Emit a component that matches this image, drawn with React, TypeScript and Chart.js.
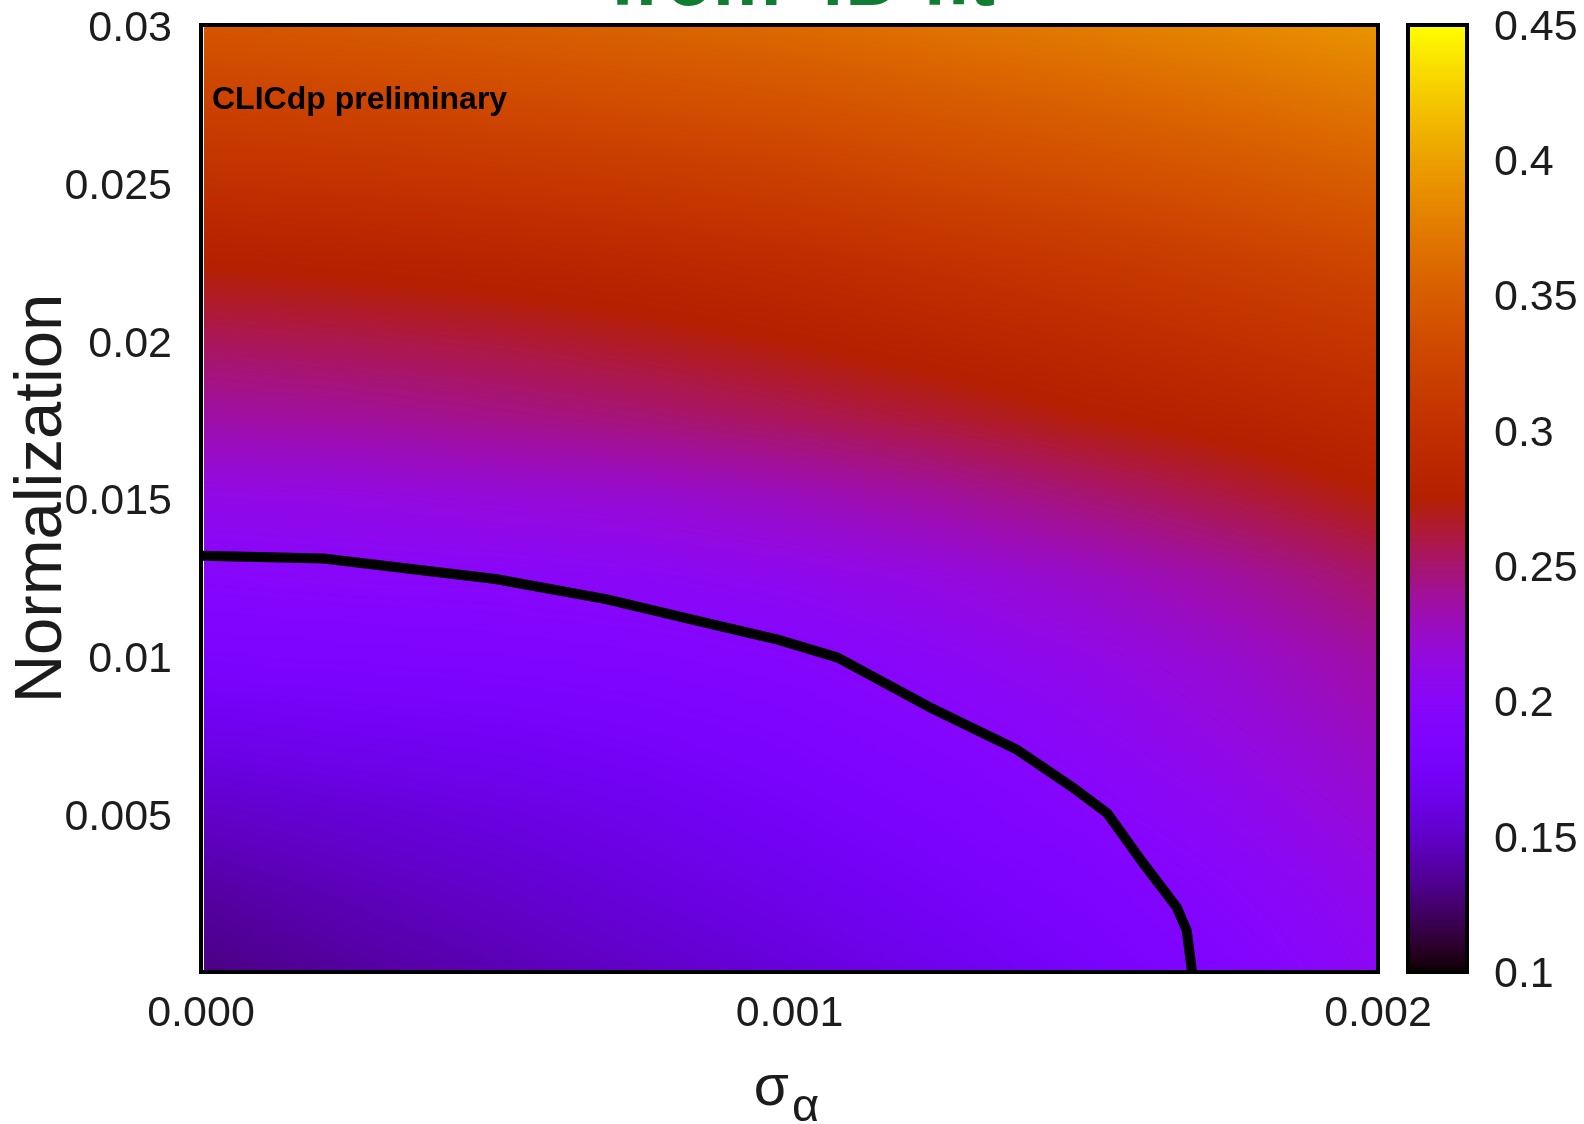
import React, { useEffect, useRef } from "react";
import { Chart, registerables } from "chart.js";

Chart.register(...registerables);

// Grid of the fitted surface: columns follow sigmaNodes, rows follow normNodes (bottom to top)
const sigmaNodes = [0, 0.00025, 0.0005, 0.00075, 0.001, 0.00125, 0.0015, 0.00175, 0.002];
const normNodes = [0, 0.0025, 0.005, 0.0075, 0.01, 0.0125, 0.015, 0.0175, 0.02, 0.0225, 0.025, 0.0275, 0.03];

const zRow000 = [0.130, 0.137, 0.143, 0.150, 0.157, 0.166, 0.176, 0.190, 0.205];
const zRow025 = [0.138, 0.145, 0.151, 0.158, 0.165, 0.174, 0.184, 0.197, 0.211];
const zRow050 = [0.150, 0.155, 0.160, 0.166, 0.174, 0.183, 0.194, 0.206, 0.220];
const zRow075 = [0.165, 0.169, 0.172, 0.177, 0.184, 0.193, 0.203, 0.215, 0.228];
const zRow100 = [0.183, 0.185, 0.187, 0.190, 0.195, 0.203, 0.212, 0.223, 0.237];
const zRow125 = [0.197, 0.199, 0.200, 0.203, 0.208, 0.215, 0.225, 0.237, 0.252];
const zRow150 = [0.212, 0.214, 0.218, 0.221, 0.228, 0.237, 0.248, 0.260, 0.273];
const zRow175 = [0.235, 0.238, 0.243, 0.248, 0.255, 0.263, 0.273, 0.281, 0.290];
const zRow200 = [0.255, 0.258, 0.262, 0.268, 0.275, 0.283, 0.291, 0.300, 0.309];
const zRow225 = [0.276, 0.279, 0.283, 0.288, 0.294, 0.302, 0.310, 0.319, 0.328];
const zRow250 = [0.300, 0.303, 0.307, 0.312, 0.318, 0.326, 0.333, 0.341, 0.350];
const zRow275 = [0.322, 0.325, 0.330, 0.335, 0.340, 0.347, 0.354, 0.362, 0.371];
const zRow300 = [0.343, 0.347, 0.351, 0.356, 0.361, 0.368, 0.375, 0.383, 0.392];

const zRows = [
  zRow000, zRow025, zRow050, zRow075, zRow100, zRow125, zRow150,
  zRow175, zRow200, zRow225, zRow250, zRow275, zRow300,
];

// Contour line
const contourSigma = [0, 0.000208, 0.0005, 0.000688, 0.00086, 0.00098, 0.001082, 0.001238, 0.001387, 0.001478, 0.00154, 0.001598, 0.001658, 0.001675, 0.001684];
const contourNorm = [0.01319, 0.0131, 0.01245, 0.01181, 0.01105, 0.01053, 0.00996, 0.00839, 0.00704, 0.00589, 0.00503, 0.00352, 0.00205, 0.00131, 0];

// Axis ticks
const xTicks = [0, 0.001, 0.002];
const xTickLabels = ["0.000", "0.001", "0.002"];
const yTicks = [0.005, 0.01, 0.015, 0.02, 0.025, 0.03];
const yTickLabels = ["0.005", "0.01", "0.015", "0.02", "0.025", "0.03"];
const cbTicks = [0.1, 0.15, 0.2, 0.25, 0.3, 0.35, 0.4, 0.45];
const cbTickLabels = ["0.1", "0.15", "0.2", "0.25", "0.3", "0.35", "0.4", "0.45"];

const zMin = 0.1;
const zMax = 0.45;

const FONT = "'Liberation Sans', Arial, Helvetica, sans-serif";
const TEXT_COLOR = "#1c1c1c";

const clamp = (v: number, lo: number, hi: number) => Math.min(hi, Math.max(lo, v));

// gnuplot-style rgbformulae 7,5,15 (black - blue - red - yellow)
function palette(z: number): [number, number, number] {
  const t = clamp((z - zMin) / (zMax - zMin), 0, 1);
  const r = Math.sqrt(t);
  const g = t * t * t;
  const b = clamp(Math.sin(2 * Math.PI * t), 0, 1);
  return [Math.round(r * 255), Math.round(g * 255), Math.round(b * 255)];
}

function locate(nodes: number[], v: number): [number, number] {
  let i = 0;
  while (i < nodes.length - 2 && v > nodes[i + 1]) i++;
  const f = clamp((v - nodes[i]) / (nodes[i + 1] - nodes[i]), 0, 1);
  return [i, f];
}

function surface(sx: number, ny: number): number {
  const [i, fx] = locate(sigmaNodes, sx);
  const [j, fy] = locate(normNodes, ny);
  const z00 = zRows[j][i];
  const z10 = zRows[j][i + 1];
  const z01 = zRows[j + 1][i];
  const z11 = zRows[j + 1][i + 1];
  const a = z00 + (z10 - z00) * fx;
  const b = z01 + (z11 - z01) * fx;
  return a + (b - a) * fy;
}

const heatmapPlugin = {
  id: "heatmap",
  beforeDatasetsDraw(chart: any) {
    const { ctx, chartArea, scales } = chart;
    const xs = scales.x;
    const ys = scales.y;
    const x0 = Math.round(chartArea.left) + 3;
    const y0 = Math.round(chartArea.top);
    const w = Math.round(chartArea.right) - x0;
    const h = Math.round(chartArea.bottom) - y0;
    const img = ctx.createImageData(w, h);
    const d = img.data;
    const colVals: number[] = [];
    for (let px = 0; px < w; px++) colVals.push(xs.getValueForPixel(x0 + px + 0.5));
    for (let py = 0; py < h; py++) {
      const nv = ys.getValueForPixel(y0 + py + 0.5);
      for (let px = 0; px < w; px++) {
        const [r, g, b] = palette(surface(colVals[px], nv));
        const k = (py * w + px) * 4;
        d[k] = r;
        d[k + 1] = g;
        d[k + 2] = b;
        d[k + 3] = 255;
      }
    }
    ctx.putImageData(img, x0, y0);
  },
};

const decorPlugin = {
  id: "decor",
  afterDraw(chart: any) {
    const { ctx, chartArea, scales } = chart;
    const { left, top, right, bottom } = chartArea;
    ctx.save();

    // frame around the map
    ctx.strokeStyle = "#000";
    ctx.lineWidth = 4;
    ctx.strokeRect(left, top, right - left, bottom - top);

    // colour bar
    const cb = scales.cb;
    const cbLeft = right + 30;
    const cbWidth = 59;
    const cbTop = cb.getPixelForValue(zMax);
    const cbBottom = cb.getPixelForValue(zMin);
    for (let py = Math.floor(cbTop); py < Math.ceil(cbBottom); py++) {
      const [r, g, b] = palette(cb.getValueForPixel(py + 0.5));
      ctx.fillStyle = `rgb(${r},${g},${b})`;
      ctx.fillRect(cbLeft, py, cbWidth, 1);
    }
    ctx.lineWidth = 4;
    ctx.strokeStyle = "#000";
    ctx.strokeRect(cbLeft, cbTop, cbWidth, cbBottom - cbTop);

    // experiment tag
    ctx.fillStyle = "#000";
    ctx.font = `bold 32px ${FONT}`;
    ctx.textAlign = "left";
    ctx.textBaseline = "alphabetic";
    ctx.fillText("CLICdp preliminary", left + 11, top + 84);

    // slide heading, mostly cut off at the top edge
    ctx.fillStyle = "#107d33";
    ctx.font = `bold 77px ${FONT}`;
    ctx.textAlign = "center";
    ctx.fillText("from 4D fit", (left + right) / 2 + 13, 5);

    // x-axis title: sigma with subscript alpha
    ctx.fillStyle = TEXT_COLOR;
    const sigFont = `57px ${FONT}`;
    const subFont = `47px ${FONT}`;
    ctx.font = sigFont;
    const wSig = ctx.measureText("σ").width;
    ctx.font = subFont;
    const wSub = ctx.measureText("α").width;
    const total = wSig + wSub + 3;
    const start = (left + right) / 2 - total / 2 - 3;
    ctx.textAlign = "left";
    ctx.font = sigFont;
    ctx.fillText("σ", start, bottom + 133);
    ctx.font = subFont;
    ctx.fillText("α", start + wSig + 3, bottom + 149);

    ctx.restore();
  },
};

const tickFont = { family: FONT, size: 43 };

export default function App() {
  const canvasRef = useRef<HTMLCanvasElement | null>(null);

  useEffect(() => {
    document.body.style.margin = "0";
    const canvas = canvasRef.current;
    if (!canvas) return;

    const chart = new Chart(canvas, {
      type: "scatter",
      data: {
        datasets: [
          {
            data: contourSigma.map((s, i) => ({ x: s, y: contourNorm[i] })),
            showLine: true,
            borderColor: "#000",
            borderWidth: 10,
            borderJoinStyle: "round",
            pointRadius: 0,
            fill: false,
            tension: 0,
          } as any,
        ],
      },
      options: {
        animation: false,
        responsive: true,
        maintainAspectRatio: false,
        events: [],
        layout: { padding: { top: 25, left: 0, right: 0, bottom: 0 } },
        plugins: {
          legend: { display: false },
          tooltip: { enabled: false },
        },
        scales: {
          x: {
            type: "linear",
            position: "bottom",
            min: 0,
            max: 0.002,
            grid: { display: false, drawTicks: false, tickLength: 0 },
            border: { display: false },
            ticks: {
              autoSkip: false,
              maxRotation: 0,
              padding: 16,
              color: TEXT_COLOR,
              font: tickFont,
              callback: (_v: any, i: number) => xTickLabels[i],
            },
            afterBuildTicks: (s: any) => {
              s.ticks = xTicks.map((v) => ({ value: v }));
            },
            afterFit: (s: any) => {
              s.height = 152;
              s.paddingLeft = 0;
              s.paddingRight = 0;
            },
          },
          y: {
            type: "linear",
            position: "left",
            min: 0,
            max: 0.03,
            grid: { display: false, drawTicks: false, tickLength: 0 },
            border: { display: false },
            title: {
              display: true,
              text: "Normalization",
              color: TEXT_COLOR,
              font: { family: FONT, size: 67 },
              padding: { top: 2, bottom: 0 },
            },
            ticks: {
              autoSkip: false,
              padding: 29,
              labelOffset: 4,
              color: TEXT_COLOR,
              font: tickFont,
              callback: (_v: any, i: number) => yTickLabels[i],
            },
            afterBuildTicks: (s: any) => {
              s.ticks = yTicks.map((v) => ({ value: v }));
            },
            afterFit: (s: any) => {
              s.width = 201;
              s.paddingTop = 0;
              s.paddingBottom = 0;
            },
          },
          cb: {
            type: "linear",
            position: "right",
            min: zMin,
            max: zMax,
            grid: { display: false, drawTicks: false, tickLength: 0 },
            border: { display: false },
            ticks: {
              autoSkip: false,
              padding: 116,
              labelOffset: 3,
              color: TEXT_COLOR,
              font: tickFont,
              callback: (_v: any, i: number) => cbTickLabels[i],
            },
            afterBuildTicks: (s: any) => {
              s.ticks = cbTicks.map((v) => ({ value: v }));
            },
            afterFit: (s: any) => {
              s.width = 206;
              s.paddingTop = 0;
              s.paddingBottom = 0;
            },
          },
        },
      } as any,
      plugins: [heatmapPlugin, decorPlugin],
    });

    return () => chart.destroy();
  }, []);

  return (
    <div style={{ position: "absolute", left: 0, top: 0, width: 1584, height: 1124 }}>
      <canvas ref={canvasRef} />
    </div>
  );
}
